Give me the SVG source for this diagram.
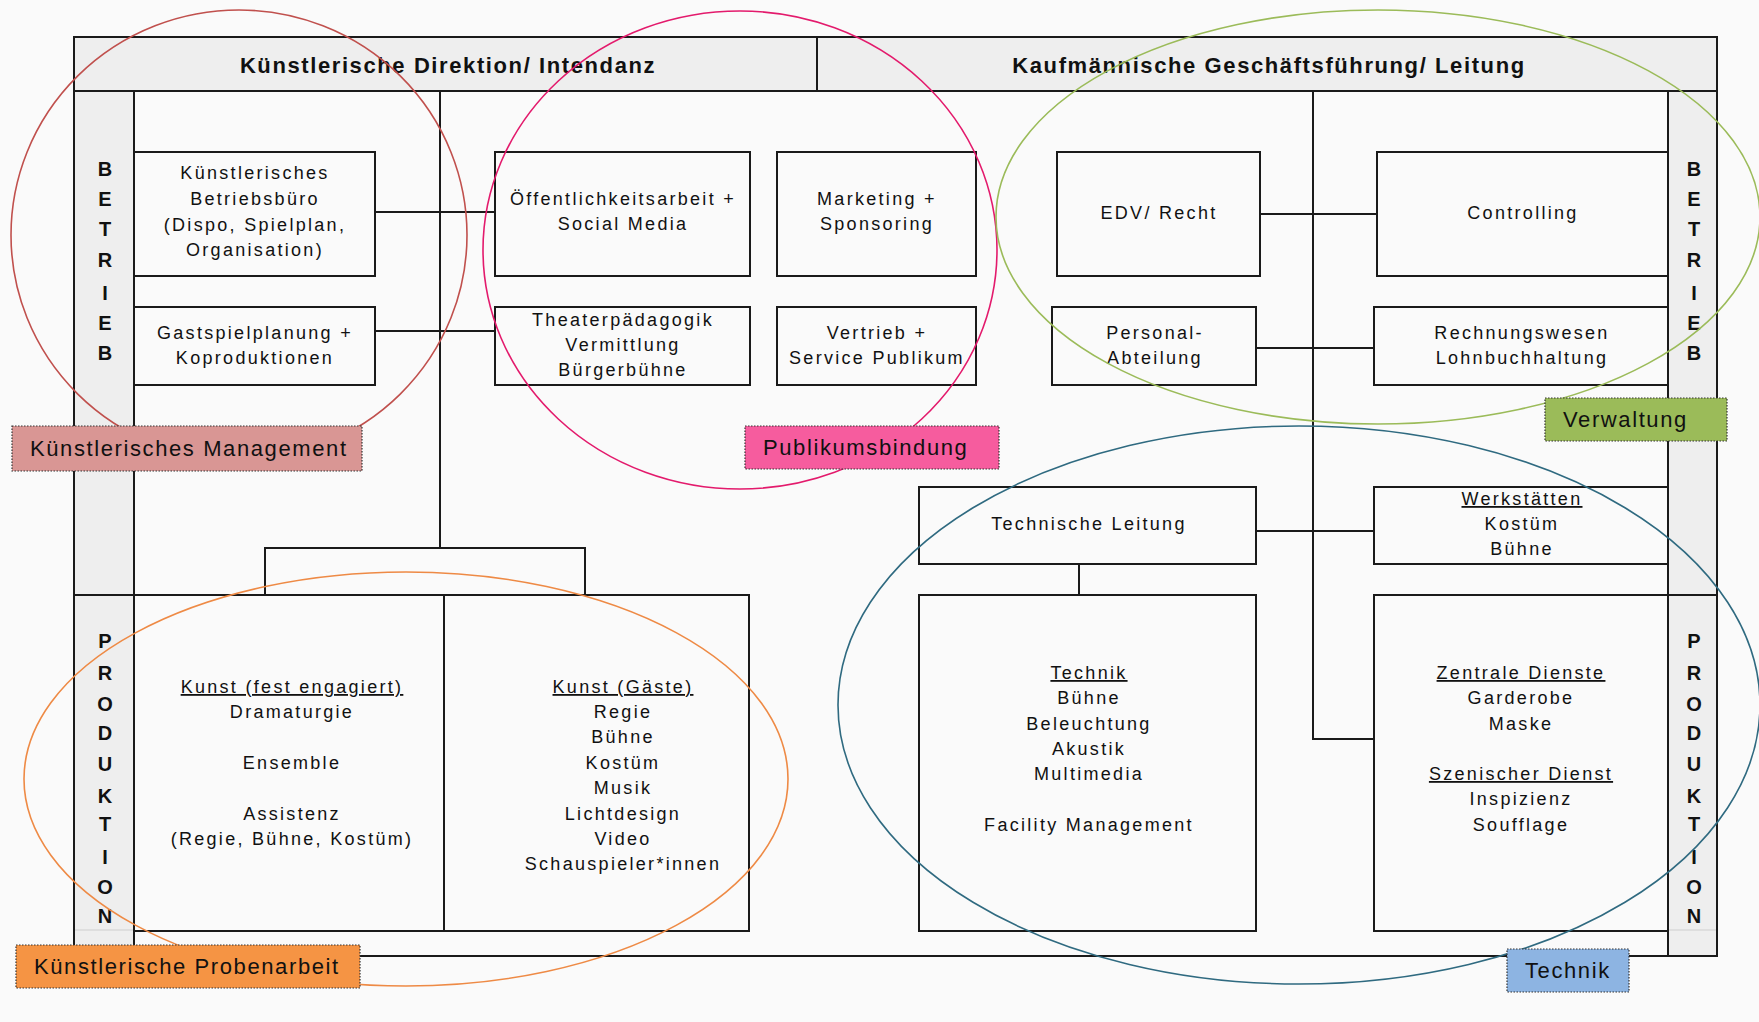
<svg xmlns="http://www.w3.org/2000/svg" width="1759" height="1022" viewBox="0 0 1759 1022">
<style>
.bg{fill:#FAFAFA}
.band{fill:#EEEEEE;stroke:none}
.ln{fill:none;stroke:#1A1A1A;stroke-width:2}
.box{fill:#FAFAFA;stroke:#1A1A1A;stroke-width:2}
.faint{stroke:#D8D8D8;stroke-width:1.5}
.t{font-family:"Liberation Sans",Arial,sans-serif;font-size:18px;letter-spacing:2.3px;fill:#111;text-anchor:middle}
.u{text-decoration:underline}
.h{font-family:"Liberation Sans",Arial,sans-serif;font-size:22px;font-weight:bold;letter-spacing:1.6px;fill:#111;text-anchor:middle}
.s{font-family:"Liberation Sans",Arial,sans-serif;font-size:20px;font-weight:bold;fill:#111;text-anchor:middle}
.lbl{font-family:"Liberation Sans",Arial,sans-serif;font-size:22px;letter-spacing:1.6px;fill:#111}
.lb{stroke:#333;stroke-width:1.2;stroke-dasharray:1.5 1.5}
.ell{fill:none;stroke-width:1.6}
</style>
<rect class="bg" x="0" y="0" width="1759" height="1022"/>

<g id="frame">
  <rect class="band" x="74" y="37" width="1643" height="54"/>
  <rect class="band" x="74" y="91" width="60" height="865"/>
  <rect class="band" x="1668" y="91" width="49" height="865"/>
  <rect class="ln" x="74" y="37" width="1643" height="919"/>
  <line class="ln" x1="74" y1="91" x2="1717" y2="91"/>
  <line class="ln" x1="817" y1="37" x2="817" y2="91"/>
  <line class="ln" x1="134" y1="91" x2="134" y2="956"/>
  <line class="ln" x1="1668" y1="91" x2="1668" y2="956"/>
  <line class="ln" x1="74" y1="595" x2="134" y2="595"/>
  <line class="ln" x1="1668" y1="595" x2="1717" y2="595"/>
  <line class="faint" x1="75" y1="930" x2="133" y2="930"/>
  <line class="faint" x1="1669" y1="930" x2="1716" y2="930"/>
  <text class="h" x="448" y="73">Künstlerische Direktion/ Intendanz</text>
  <text class="h" x="1269" y="73">Kaufmännische Geschäftsführung/ Leitung</text>
</g>

<g id="sidebar-left">
  <text class="s"><tspan x="105" y="176">B</tspan><tspan x="105" y="206">E</tspan><tspan x="105" y="236">T</tspan><tspan x="105" y="267">R</tspan><tspan x="105" y="300">I</tspan><tspan x="105" y="330">E</tspan><tspan x="105" y="360">B</tspan></text>
  <text class="s"><tspan x="105" y="648">P</tspan><tspan x="105" y="680">R</tspan><tspan x="105" y="711">O</tspan><tspan x="105" y="740">D</tspan><tspan x="105" y="771">U</tspan><tspan x="105" y="803">K</tspan><tspan x="105" y="831">T</tspan><tspan x="105" y="864">I</tspan><tspan x="105" y="894">O</tspan><tspan x="105" y="923">N</tspan></text>
</g>
<g id="sidebar-right">
  <text class="s"><tspan x="1694" y="176">B</tspan><tspan x="1694" y="206">E</tspan><tspan x="1694" y="236">T</tspan><tspan x="1694" y="267">R</tspan><tspan x="1694" y="300">I</tspan><tspan x="1694" y="330">E</tspan><tspan x="1694" y="360">B</tspan></text>
  <text class="s"><tspan x="1694" y="648">P</tspan><tspan x="1694" y="680">R</tspan><tspan x="1694" y="711">O</tspan><tspan x="1694" y="740">D</tspan><tspan x="1694" y="771">U</tspan><tspan x="1694" y="803">K</tspan><tspan x="1694" y="831">T</tspan><tspan x="1694" y="864">I</tspan><tspan x="1694" y="894">O</tspan><tspan x="1694" y="923">N</tspan></text>
</g>

<g id="connectors">
  <line class="ln" x1="440" y1="91" x2="440" y2="548"/>
  <line class="ln" x1="375" y1="212" x2="495" y2="212"/>
  <line class="ln" x1="375" y1="331" x2="495" y2="331"/>
  <polyline class="ln" points="265,595 265,548 585,548 585,595"/>
  <polyline class="ln" points="1313,91 1313,739 1374,739"/>
  <line class="ln" x1="1260" y1="214" x2="1377" y2="214"/>
  <line class="ln" x1="1256" y1="348" x2="1374" y2="348"/>
  <line class="ln" x1="1256" y1="531" x2="1374" y2="531"/>
  <line class="ln" x1="1079" y1="564" x2="1079" y2="595"/>
</g>

<g id="n-betriebsbuero">
  <rect class="box" x="134" y="152" width="241" height="124"/>
  <text class="t"><tspan x="255" y="179">Künstlerisches</tspan><tspan x="255" y="205">Betriebsbüro</tspan><tspan x="255" y="231">(Dispo, Spielplan,</tspan><tspan x="255" y="256">Organisation)</tspan></text>
</g>
<g id="n-gastspiel">
  <rect class="box" x="134" y="307" width="241" height="78"/>
  <text class="t"><tspan x="255" y="339">Gastspielplanung +</tspan><tspan x="255" y="364">Koproduktionen</tspan></text>
</g>
<g id="n-oeffentlichkeit">
  <rect class="box" x="495" y="152" width="255" height="124"/>
  <text class="t"><tspan x="623" y="205">Öffentlichkeitsarbeit +</tspan><tspan x="623" y="230">Social Media</tspan></text>
</g>
<g id="n-marketing">
  <rect class="box" x="777" y="152" width="199" height="124"/>
  <text class="t"><tspan x="877" y="205">Marketing +</tspan><tspan x="877" y="230">Sponsoring</tspan></text>
</g>
<g id="n-theaterpaedagogik">
  <rect class="box" x="495" y="307" width="255" height="78"/>
  <text class="t"><tspan x="623" y="326">Theaterpädagogik</tspan><tspan x="623" y="351">Vermittlung</tspan><tspan x="623" y="376">Bürgerbühne</tspan></text>
</g>
<g id="n-vertrieb">
  <rect class="box" x="777" y="307" width="199" height="78"/>
  <text class="t"><tspan x="877" y="339">Vertrieb +</tspan><tspan x="877" y="364">Service Publikum</tspan></text>
</g>
<g id="n-edv">
  <rect class="box" x="1057" y="152" width="203" height="124"/>
  <text class="t" x="1159" y="219">EDV/ Recht</text>
</g>
<g id="n-controlling">
  <rect class="box" x="1377" y="152" width="291" height="124"/>
  <text class="t" x="1523" y="219">Controlling</text>
</g>
<g id="n-personal">
  <rect class="box" x="1052" y="307" width="204" height="78"/>
  <text class="t"><tspan x="1155" y="339">Personal-</tspan><tspan x="1155" y="364">Abteilung</tspan></text>
</g>
<g id="n-rechnungswesen">
  <rect class="box" x="1374" y="307" width="294" height="78"/>
  <text class="t"><tspan x="1522" y="339">Rechnungswesen</tspan><tspan x="1522" y="364">Lohnbuchhaltung</tspan></text>
</g>
<g id="n-technische-leitung">
  <rect class="box" x="919" y="487" width="337" height="77"/>
  <text class="t" x="1089" y="530">Technische Leitung</text>
</g>
<g id="n-werkstaetten">
  <rect class="box" x="1374" y="487" width="294" height="77"/>
  <text class="t"><tspan class="u" x="1522" y="505">Werkstätten</tspan><tspan x="1522" y="530">Kostüm</tspan><tspan x="1522" y="555">Bühne</tspan></text>
</g>
<g id="n-kunst-fest">
  <rect class="box" x="134" y="595" width="310" height="336"/>
  <text class="t"><tspan class="u" x="292" y="693">Kunst (fest engagiert)</tspan><tspan x="292" y="718">Dramaturgie</tspan><tspan x="292" y="769">Ensemble</tspan><tspan x="292" y="820">Assistenz</tspan><tspan x="292" y="845">(Regie, Bühne, Kostüm)</tspan></text>
</g>
<g id="n-kunst-gaeste">
  <rect class="box" x="444" y="595" width="305" height="336"/>
  <text class="t"><tspan class="u" x="623" y="693">Kunst (Gäste)</tspan><tspan x="623" y="718">Regie</tspan><tspan x="623" y="743">Bühne</tspan><tspan x="623" y="769">Kostüm</tspan><tspan x="623" y="794">Musik</tspan><tspan x="623" y="820">Lichtdesign</tspan><tspan x="623" y="845">Video</tspan><tspan x="623" y="870">Schauspieler*innen</tspan></text>
</g>
<g id="n-technik">
  <rect class="box" x="919" y="595" width="337" height="336"/>
  <text class="t"><tspan class="u" x="1089" y="679">Technik</tspan><tspan x="1089" y="704">Bühne</tspan><tspan x="1089" y="730">Beleuchtung</tspan><tspan x="1089" y="755">Akustik</tspan><tspan x="1089" y="780">Multimedia</tspan><tspan x="1089" y="831">Facility Management</tspan></text>
</g>
<g id="n-zentrale-dienste">
  <rect class="box" x="1374" y="595" width="294" height="336"/>
  <text class="t"><tspan class="u" x="1521" y="679">Zentrale Dienste</tspan><tspan x="1521" y="704">Garderobe</tspan><tspan x="1521" y="730">Maske</tspan><tspan class="u" x="1521" y="780">Szenischer Dienst</tspan><tspan x="1521" y="805">Inspizienz</tspan><tspan x="1521" y="831">Soufflage</tspan></text>
</g>

<g id="groupings">
  <ellipse class="ell" cx="239" cy="235" rx="228" ry="225" stroke="#C0504D"/>
  <ellipse class="ell" cx="740" cy="250" rx="257" ry="239" stroke="#E31A6C"/>
  <ellipse class="ell" cx="1378" cy="217" rx="382" ry="207" stroke="#9BBB59"/>
  <ellipse class="ell" cx="1299" cy="705" rx="461" ry="279" stroke="#2F6A80"/>
  <ellipse class="ell" cx="406" cy="779" rx="382" ry="207" stroke="#EE8A45"/>
</g>

<g id="label-kuenstlerisches-management">
  <rect class="lb" x="12" y="426" width="350" height="45" fill="#D99694"/>
  <text class="lbl" x="30" y="456">Künstlerisches Management</text>
</g>
<g id="label-publikumsbindung">
  <rect class="lb" x="745" y="426" width="254" height="43" fill="#F65C9E"/>
  <text class="lbl" x="763" y="455">Publikumsbindung</text>
</g>
<g id="label-verwaltung">
  <rect class="lb" x="1545" y="398" width="182" height="43" fill="#9BBB59"/>
  <text class="lbl" x="1563" y="427">Verwaltung</text>
</g>
<g id="label-technik">
  <rect class="lb" x="1507" y="949" width="122" height="43" fill="#8DB4E2"/>
  <text class="lbl" x="1525" y="978">Technik</text>
</g>
<g id="label-probenarbeit">
  <rect class="lb" x="16" y="945" width="344" height="43" fill="#F59444"/>
  <text class="lbl" x="34" y="974">Künstlerische Probenarbeit</text>
</g>
</svg>
